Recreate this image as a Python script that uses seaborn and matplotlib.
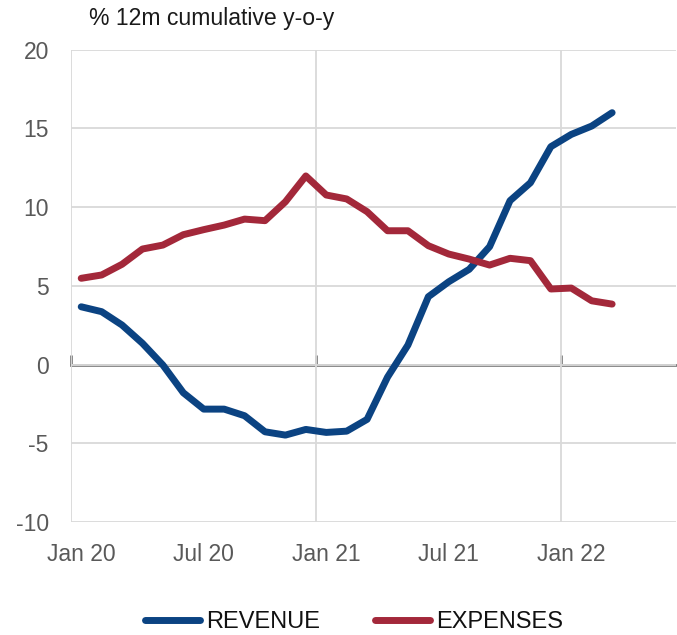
import matplotlib
matplotlib.use("Agg")
import matplotlib.pyplot as plt
from matplotlib.lines import Line2D
import seaborn as sns
import pandas as pd
import numpy as np

# Monthly observations, Jan 2020 - Mar 2022
months = pd.date_range("2020-01-01", periods=27, freq="MS")
revenue = [3.67, 3.36, 2.51, 1.35, -0.03, -1.79, -2.83, -2.83, -3.25,
           -4.27, -4.48, -4.12, -4.31, -4.23, -3.48, -0.80, 1.24, 4.31,
           5.26, 6.05, 7.49, 10.41, 11.55, 13.84, 14.62, 15.15, 16.00]
expenses = [5.48, 5.69, 6.37, 7.34, 7.59, 8.25, 8.57, 8.86, 9.24,
            9.14, 10.34, 11.98, 10.77, 10.52, 9.71, 8.50, 8.50, 7.55,
            7.02, 6.70, 6.32, 6.75, 6.60, 4.80, 4.86, 4.05, 3.84]
series_names = ["REVENUE", "EXPENSES"]
series_colors = ["#0b4382", "#a3283a"]
y_ticks = [-10, -5, 0, 5, 10, 15, 20]
title = "% 12m cumulative y-o-y"

df = pd.DataFrame({"month": months, "REVENUE": revenue, "EXPENSES": expenses})
df["pos"] = np.arange(len(df))
long = df.melt(id_vars=["month", "pos"], value_vars=series_names,
               var_name="series", value_name="value")

sns.set_theme(style="white")
plt.rcParams["font.family"] = ["Liberation Sans", "DejaVu Sans"]
plt.rcParams["axes.unicode_minus"] = False

W, H = 677, 635
fig = plt.figure(figsize=(W / 100, H / 100), dpi=100)
ax = fig.add_axes([71 / W, 1 - 522 / H, (676 - 71) / W, (522 - 49.7) / H])

sns.lineplot(data=long, x="pos", y="value", hue="series", hue_order=series_names,
             palette=series_colors, linewidth=5, ax=ax, legend=False, sort=False)
for ln in ax.lines:
    ln.set_solid_capstyle("round")
    ln.set_solid_joinstyle("round")
    ln.set_zorder(3)

# category axis: one slot per month, boundaries at half positions
month_w = 20.42
ax.set_xlim(-0.5, -0.5 + (676 - 71) / month_w)
ax.set_ylim(-10, 20)
ax.set_yticks(y_ticks)
label_idx = df["pos"].iloc[::6]
ax.set_xticks(label_idx)
ax.set_xticklabels(months[::6].strftime("%b %y"))
year_bounds = [-0.5, 11.5, 23.5]
ax.set_xticks(year_bounds, minor=True)

grid_kw = dict(color="#d9d9d9", linewidth=1.3)
ax.grid(axis="y", which="major", **grid_kw)
ax.grid(axis="x", which="minor", **grid_kw)
ax.grid(axis="x", which="major", visible=False)
for s in ax.spines.values():
    s.set_visible(False)

ax.tick_params(axis="x", which="major", length=0, pad=15, labelsize=16.5,
               labelcolor="#595959")
ax.tick_params(axis="x", which="minor", length=0)
ax.tick_params(axis="y", length=0, pad=16, labelsize=16.5, labelcolor="#595959")
ax.set_xlabel("")
ax.set_ylabel("")

# zero line with yearly tick marks
zero_frac = (0 - (-10)) / (20 - (-10))
sec = ax.secondary_xaxis(zero_frac)
sec.set_xticks(year_bounds)
sec.tick_params(axis="x", direction="in", length=7, width=2, color="#808080",
                labelbottom=False, labeltop=False)
for s in sec.spines.values():
    s.set_color("#808080")
    s.set_linewidth(2)

fig.text(89 / W, 1 - 18.5 / H, title, ha="left", va="center",
         fontsize=16.6, color="#1a1a1a")

handles = [Line2D([], [], color=c, linewidth=5, solid_capstyle="round")
           for c in series_colors]
fig.legend(handles, series_names, loc="center", bbox_to_anchor=(354 / W, 1 - 622 / H),
           ncol=2, frameon=False, fontsize=17, handlelength=2.35,
           handletextpad=0.25, columnspacing=2.3, labelcolor="#111111")

fig.savefig("out.png", dpi=100)
